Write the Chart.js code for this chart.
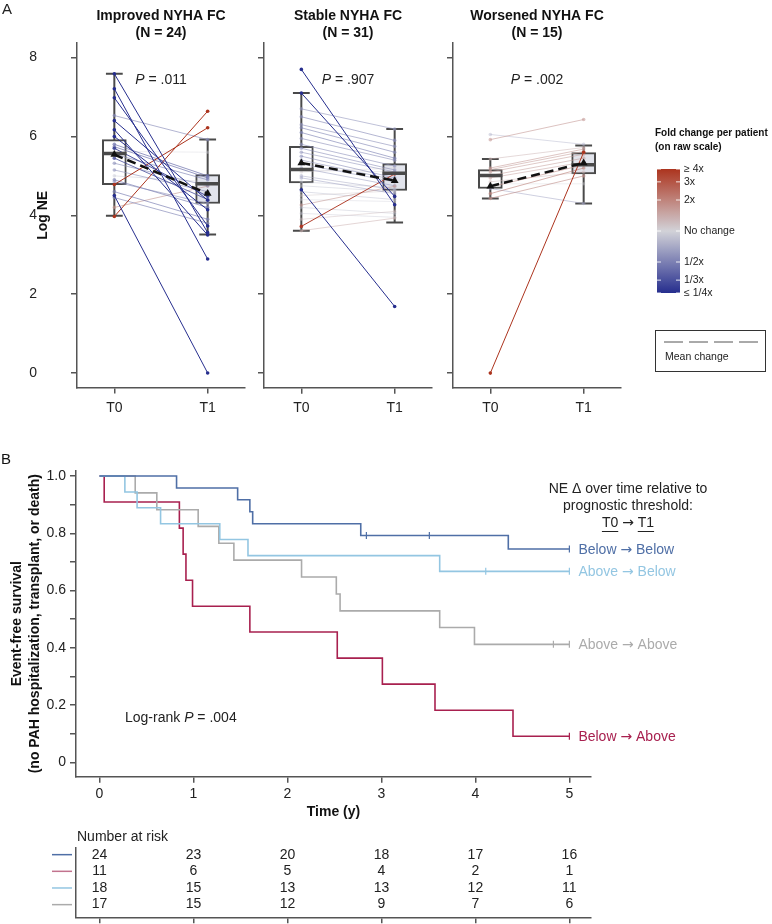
<!DOCTYPE html>
<html>
<head>
<meta charset="utf-8">
<title>NE change by NYHA FC and event-free survival</title>
<script src="https://cdn.jsdelivr.net/npm/chart.js@4.4.1/dist/chart.umd.min.js"></script>
<style>
  html, body { margin: 0; padding: 0; background: #fff; }
  body { position: relative; width: 772px; height: 924px; overflow: hidden; }
  canvas { position: absolute; }
</style>
</head>
<body>
<canvas id="panel1" width="250" height="430" style="left:0px;top:0px"></canvas>
<canvas id="panel2" width="190" height="430" style="left:250px;top:0px"></canvas>
<canvas id="panel3" width="332" height="430" style="left:440px;top:0px"></canvas>
<canvas id="km" width="772" height="396" style="left:0px;top:430px"></canvas>
<canvas id="risk" width="772" height="98" style="left:0px;top:826px"></canvas>
<script>
// ---------- Panel A: log NE per patient at T0 / T1 ----------
const timeLabels = ['T0', 'T1'];
const logNeTicks = [0, 2, 4, 6, 8];
const groupTitles = ['Improved NYHA FC', 'Stable NYHA FC', 'Worsened NYHA FC'];
const groupN = [24, 31, 15];
const groupP = ['.011', '.907', '.002'];

const improvedT0 = [7.59, 7.21, 6.98, 6.53, 6.40, 6.17, 6.00, 5.80, 5.74, 5.62, 5.55, 5.45, 5.32, 5.15, 5.00, 4.90, 4.85, 4.78, 4.60, 4.50, 4.45, 4.20, 3.97, 5.70];
const improvedT1 = [3.56, 2.89, 3.73, 5.92, 4.38, 3.50, 4.14, 5.00, 4.95, 5.60, 4.90, 4.40, 4.75, 4.60, 4.85, 4.20, 4.30, 6.22, 3.90, 0.00, 3.80, 4.74, 6.64, 4.48];

const stableT0 = [7.70, 7.10, 6.70, 6.50, 6.30, 6.22, 6.10, 5.95, 5.80, 5.70, 5.60, 5.50, 5.40, 5.30, 5.20, 5.10, 5.00, 4.95, 4.85, 4.65, 4.75, 4.60, 4.50, 4.40, 4.26, 4.20, 4.05, 3.90, 3.72, 3.61, 5.15];
const stableT1 = [4.27, 4.48, 6.19, 5.90, 5.75, 5.60, 5.45, 5.40, 5.25, 5.15, 5.10, 4.95, 4.90, 4.85, 4.75, 5.20, 4.65, 4.55, 4.70, 1.69, 4.60, 4.40, 4.62, 4.35, 4.74, 4.05, 3.95, 4.10, 5.05, 3.93, 5.10];

const worsenedT0 = [0.00, 6.05, 5.92, 5.43, 5.20, 5.16, 5.10, 5.01, 4.95, 4.85, 4.80, 4.72, 4.68, 4.55, 4.43];
const worsenedT1 = [5.60, 5.80, 6.43, 5.72, 5.68, 5.62, 5.55, 5.45, 5.35, 5.10, 4.80, 5.28, 4.30, 5.20, 5.00];

// box stats: [lower whisker, Q1, median, Q3, upper whisker], T0 then T1
const improvedBox = [[3.99, 4.78, 5.57, 5.92, 7.59], [3.51, 4.30, 4.80, 5.03, 5.92]];
const stableBox = [[3.61, 4.82, 5.16, 5.75, 7.10], [3.82, 4.63, 5.07, 5.31, 6.19]];
const worsenedBox = [[4.43, 4.68, 5.01, 5.16, 5.43], [4.30, 5.05, 5.28, 5.59, 5.77]];
const improvedMean = [5.54, 4.55];
const stableMean = [5.33, 4.88];
const worsenedMean = [4.74, 5.33];

// colour bar
const foldTicks = [4, 3, 2, 1, 1 / 2, 1 / 3, 1 / 4];
const foldTickLabels = ['≥ 4x', '3x', '2x', 'No change', '1/2x', '1/3x', '≤ 1/4x'];

// ---------- Panel B: Kaplan-Meier ----------
const kmLabels = ['Below → Below', 'Above → Below', 'Above → Above', 'Below → Above'];
const belowBelowTime = [0, 0.82, 1.47, 1.60, 1.63, 2.78, 4.35, 5];
const belowBelowSurv = [1, 0.958, 0.917, 0.875, 0.833, 0.792, 0.745, 0.745];
const belowBelowCensor = [2.84, 3.51, 5];
const aboveBelowTime = [0, 0.27, 0.40, 0.65, 1.28, 1.58, 3.62, 5];
const aboveBelowSurv = [1, 0.944, 0.889, 0.833, 0.778, 0.722, 0.667, 0.667];
const aboveBelowCensor = [4.11, 5];
const aboveAboveTime = [0, 0.38, 0.61, 1.05, 1.27, 1.43, 2.15, 2.52, 2.56, 3.62, 3.99, 5];
const aboveAboveSurv = [1, 0.941, 0.882, 0.824, 0.765, 0.706, 0.647, 0.588, 0.529, 0.471, 0.412, 0.412];
const aboveAboveCensor = [4.83, 5];
const belowAboveTime = [0, 0.05, 0.85, 0.89, 0.92, 0.99, 1.60, 2.53, 3.01, 3.57, 4.40, 5];
const belowAboveSurv = [1, 0.909, 0.818, 0.727, 0.636, 0.545, 0.455, 0.364, 0.273, 0.182, 0.091, 0.091];
const belowAboveCensor = [5];
const timeTicks = [0, 1, 2, 3, 4, 5];
const survivalTickLabels = [0, 0.2, 0.4, 0.6, 0.8, 1.0];

// number at risk (rows: Below→Below, Below→Above, Above→Below, Above→Above)
const riskBelowBelow = [24, 23, 20, 18, 17, 16];
const riskBelowAbove = [11, 6, 5, 4, 2, 1];
const riskAboveBelow = [18, 15, 13, 13, 12, 11];
const riskAboveAbove = [17, 15, 12, 9, 7, 6];

// ---------- styling ----------
const FONT = '"Liberation Sans", Arial, Helvetica, sans-serif';
const ARROW_FONT = '"DejaVu Sans", sans-serif';
Chart.defaults.font.family = FONT;
Chart.defaults.font.size = 14;
Chart.defaults.color = '#222';
const AXIS = '#555';
const BOXC = '#4a4a4a';
const HI = [172, 52, 30], MID = [210, 210, 216], LO = [38, 46, 142];
const BOX_HALF = 0.13, CAP_HALF = 0.09;
const C_BB = '#4f6fa6', C_AB = '#93c6e2', C_AA = '#ababab', C_BA = '#a8204f';

function foldMix(t) {
  const end = t >= 0 ? HI : LO, a = Math.min(1, Math.abs(t));
  return MID.map((m, i) => Math.round(m + (end[i] - m) * a));
}
function foldT(t0, t1) {
  return Math.max(-1, Math.min(1, (t1 - t0) / Math.log(4)));
}
function patientColor(t0, t1) {
  const t = foldT(t0, t1);
  const [r, g, b] = foldMix(t);
  return `rgba(${r},${g},${b},${(0.35 + 0.65 * Math.abs(t)).toFixed(2)})`;
}

// draws "a → b" with the arrow taken from DejaVu Sans; returns the pieces' widths
function arrowText(ctx, text, x, y, size, underline) {
  const parts = text.split('→');
  const pieces = [[parts[0], FONT], ['→', ARROW_FONT], [parts[1], FONT]];
  let px = x;
  pieces.forEach(([t, f], i) => {
    ctx.font = `${size}px ${f}`;
    const w = ctx.measureText(t).width;
    ctx.fillText(t, px, y);
    if (underline && i !== 1) {
      const t0 = t.trimStart(), lead = ctx.measureText(t.slice(0, t.length - t0.length)).width;
      const core = ctx.measureText(t0.trimEnd()).width;
      ctx.beginPath();
      ctx.moveTo(px + lead, y + 8.5); ctx.lineTo(px + lead + core, y + 8.5);
      ctx.stroke();
    }
    px += w;
  });
  return px - x;
}
function arrowTextWidth(ctx, text, size) {
  const parts = text.split('→');
  ctx.font = `${size}px ${FONT}`;
  let w = ctx.measureText(parts[0]).width + ctx.measureText(parts[1]).width;
  ctx.font = `${size}px ${ARROW_FONT}`;
  return w + ctx.measureText('→').width;
}

// titles + P values over each panel
const panelText = {
  id: 'panelText',
  afterDraw(chart, args, o) {
    const { ctx, chartArea } = chart;
    const cx = (chartArea.left + chartArea.right) / 2;
    ctx.save();
    ctx.fillStyle = '#111';
    ctx.textAlign = 'center';
    ctx.textBaseline = 'middle';
    ctx.font = `bold 14px ${FONT}`;
    ctx.fillText(o.title, cx, 16);
    ctx.fillText(`(N = ${o.n})`, cx, 33);
    ctx.font = `italic 14px ${FONT}`;
    const wP = ctx.measureText('P').width;
    ctx.font = `14px ${FONT}`;
    const rest = ` = ${o.p}`;
    const wR = ctx.measureText(rest).width;
    const x0 = cx - (wP + wR) / 2;
    ctx.textAlign = 'left';
    ctx.fillStyle = '#222';
    ctx.font = `italic 14px ${FONT}`;
    ctx.fillText('P', x0, 80);
    ctx.font = `14px ${FONT}`;
    ctx.fillText(rest, x0 + wP, 80);
    if (o.letter) {
      ctx.font = `15px ${FONT}`;
      ctx.fillText(o.letter, 2, 10);
    }
    ctx.restore();
  }
};

// colour bar + mean change legend (drawn on panel 3 canvas, which starts at x=440)
const foldLegend = {
  id: 'foldLegend',
  afterDraw(chart) {
    const ctx = chart.ctx, ox = 440;
    const bx = 657 - ox, bw = 23, top = 169, bot = 293, mid = (top + bot) / 2, half = (bot - top) / 2;
    ctx.save();
    ctx.fillStyle = '#111';
    ctx.textAlign = 'left';
    ctx.textBaseline = 'middle';
    ctx.font = `bold 10px ${FONT}`;
    ctx.fillText('Fold change per patient', 655 - ox, 133);
    ctx.fillText('(on raw scale)', 655 - ox, 147);
    const g = ctx.createLinearGradient(0, top, 0, bot);
    for (let k = 0; k <= 20; k++) {
      const [r, gg, b] = foldMix(1 - k / 10);
      g.addColorStop(k / 20, `rgb(${r},${gg},${b})`);
    }
    ctx.fillStyle = g;
    ctx.fillRect(bx, top, bw, bot - top);
    ctx.font = `10.5px ${FONT}`;
    foldTicks.forEach((f, i) => {
      const y = mid - Math.log(f) / Math.log(4) * half;
      ctx.strokeStyle = 'rgba(255,255,255,0.85)';
      ctx.lineWidth = 1;
      ctx.beginPath();
      ctx.moveTo(bx, y); ctx.lineTo(bx + 4, y);
      ctx.moveTo(bx + bw - 4, y); ctx.lineTo(bx + bw, y);
      ctx.stroke();
      ctx.fillStyle = '#222';
      ctx.fillText(foldTickLabels[i], bx + bw + 4, y);
    });
    ctx.strokeStyle = '#333';
    ctx.lineWidth = 1;
    ctx.strokeRect(655 - ox + 0.5, 330.5, 110, 41);
    ctx.strokeStyle = '#555';
    ctx.setLineDash([19, 6]);
    ctx.beginPath();
    ctx.moveTo(664 - ox, 342); ctx.lineTo(758 - ox, 342);
    ctx.stroke();
    ctx.setLineDash([]);
    ctx.fillStyle = '#222';
    ctx.fillText('Mean change', 665 - ox, 357);
    ctx.restore();
  }
};

function buildPanel(id, idx, t0, t1, box, mean, yWidth, padRight, extraPlugins) {
  const ds = [];
  ds.push({ type: 'line', order: 12, data: box.flatMap((b, i) => [{ x: i, y: b[0] }, { x: i, y: b[4] }, { x: i, y: null }]),
    borderColor: BOXC, borderWidth: 2, pointRadius: 0 });
  ds.push({ type: 'line', order: 12, data: box.flatMap((b, i) => [
      { x: i - CAP_HALF, y: b[0] }, { x: i + CAP_HALF, y: b[0] }, { x: i, y: null },
      { x: i - CAP_HALF, y: b[4] }, { x: i + CAP_HALF, y: b[4] }, { x: i, y: null }]),
    borderColor: BOXC, borderWidth: 2, pointRadius: 0 });
  ds.push({ type: 'bar', order: 10, data: box.map((b, i) => ({ x: i, y: [b[1], b[3]] })),
    backgroundColor: ['#ffffff', '#e2e4ec'], borderColor: BOXC, borderWidth: 2, borderSkipped: false, barThickness: 24 });
  t0.forEach((v, i) => {
    const c = patientColor(v, t1[i]);
    ds.push({ type: 'line', order: 6 - Math.abs(foldT(v, t1[i])), data: [{ x: 0, y: v }, { x: 1, y: t1[i] }],
      borderColor: c, borderWidth: 1, pointRadius: 1.8, pointBackgroundColor: c, pointBorderWidth: 0 });
  });
  ds.push({ type: 'line', order: 3, data: box.flatMap((b, i) => [{ x: i - BOX_HALF, y: b[2] }, { x: i + BOX_HALF, y: b[2] }, { x: i, y: null }]),
    borderColor: BOXC, borderWidth: 3.5, pointRadius: 0, borderCapStyle: 'butt' });
  ds.push({ type: 'line', order: 0, data: mean.map((m, i) => ({ x: i, y: m })),
    borderColor: '#111', borderWidth: 2.5, borderDash: [9, 5], pointStyle: 'triangle', pointRadius: 4.5,
    pointBackgroundColor: '#111', pointBorderColor: '#111', pointBorderWidth: 0 });

  return new Chart(document.getElementById(id), {
    type: 'line',
    data: { datasets: ds },
    plugins: [panelText].concat(extraPlugins || []),
    options: {
      responsive: false, animation: false, devicePixelRatio: 1, events: [],
      layout: { padding: { top: 43, right: padRight, bottom: 12.3, left: 0 } },
      plugins: {
        legend: { display: false }, tooltip: { enabled: false },
        panelText: { title: groupTitles[idx], n: groupN[idx], p: groupP[idx], letter: idx === 0 ? 'A' : '' }
      },
      scales: {
        x: {
          type: 'linear', min: -0.4, max: 1.4, offset: false,
          afterBuildTicks: s => { s.ticks = timeLabels.map((_, i) => ({ value: i })); },
          afterFit: s => { s.height = 30; },
          ticks: { callback: v => timeLabels[v], padding: 6, autoSkip: false, maxRotation: 0, color: '#222' },
          grid: { drawOnChartArea: false, tickLength: 6, color: AXIS, lineWidth: 1.5, offset: false },
          border: { color: AXIS, width: 1.5 }
        },
        y: {
          type: 'linear', min: -0.37, max: 8.37,
          afterBuildTicks: s => { s.ticks = logNeTicks.map(v => ({ value: v })); },
          afterFit: s => { s.width = yWidth; },
          ticks: { display: idx === 0, padding: 34, color: '#222' },
          grid: { drawOnChartArea: false, tickLength: 6, color: AXIS, lineWidth: 1.5 },
          border: { color: AXIS, width: 1.5 },
          title: idx === 0
            ? { display: true, text: 'Log NE', font: { size: 14, weight: 'bold' }, color: '#111', padding: { top: 35, bottom: 0 } }
            : { display: false }
        }
      }
    }
  });
}

buildPanel('panel1', 0, improvedT0, improvedT1, improvedBox, improvedMean, 77, 5);
buildPanel('panel2', 1, stableT0, stableT1, stableBox, stableMean, 14, 8);
buildPanel('panel3', 2, worsenedT0, worsenedT1, worsenedBox, worsenedMean, 13, 151, [foldLegend]);

// ---------- Panel B ----------
const kmSeries = [
  { label: kmLabels[0], time: belowBelowTime, surv: belowBelowSurv, cens: belowBelowCensor, color: C_BB },
  { label: kmLabels[1], time: aboveBelowTime, surv: aboveBelowSurv, cens: aboveBelowCensor, color: C_AB },
  { label: kmLabels[2], time: aboveAboveTime, surv: aboveAboveSurv, cens: aboveAboveCensor, color: C_AA },
  { label: kmLabels[3], time: belowAboveTime, surv: belowAboveSurv, cens: belowAboveCensor, color: C_BA }
];
function survAt(s, t) {
  let v = s.surv[0];
  s.time.forEach((tt, i) => { if (tt <= t) v = s.surv[i]; });
  return v;
}

const kmText = {
  id: 'kmText',
  afterDraw(chart) {
    const { ctx, scales: { x, y } } = chart;
    ctx.save();
    ctx.textBaseline = 'middle';
    ctx.textAlign = 'left';
    ctx.fillStyle = '#111';
    ctx.font = `15px ${FONT}`;
    ctx.fillText('B', 1, 30);
    ctx.font = `14px ${FONT}`;
    ctx.fillStyle = '#222';
    ctx.textAlign = 'center';
    const hx = 628;
    ctx.fillText('NE Δ over time relative to', hx, 59);
    ctx.fillText('prognostic threshold:', hx, 76);
    ctx.textAlign = 'left';
    ctx.strokeStyle = '#222';
    ctx.lineWidth = 1;
    const head = 'T0 → T1';
    arrowText(ctx, head, hx - arrowTextWidth(ctx, head, 14) / 2, 93, 14, true);
    kmSeries.forEach(s => {
      ctx.fillStyle = s.color;
      arrowText(ctx, s.label, x.getPixelForValue(5) + 9, y.getPixelForValue(s.surv[s.surv.length - 1]) + 1, 14, false);
    });
    // log-rank
    ctx.fillStyle = '#222';
    let lx = 125;
    const lr = [['Log-rank ', 'normal'], ['P', 'italic'], [' = .004', 'normal']];
    lr.forEach(([t, st]) => {
      ctx.font = `${st === 'italic' ? 'italic ' : ''}14px ${FONT}`;
      ctx.fillText(t, lx, 288);
      lx += ctx.measureText(t).width;
    });
    ctx.restore();
  }
};

const kmDatasets = [];
kmSeries.forEach(s => {
  kmDatasets.push({
    type: 'line', data: s.time.map((t, i) => ({ x: t, y: s.surv[i] })), stepped: 'before',
    borderColor: s.color, borderWidth: 1.6, pointRadius: 0, fill: false
  });
  kmDatasets.push({
    type: 'line', showLine: false, data: s.cens.map(t => ({ x: t, y: survAt(s, t) })),
    pointStyle: 'line', rotation: 90, pointRadius: 3.5, pointBorderWidth: 1.2, pointBorderColor: s.color, pointBackgroundColor: s.color
  });
});

new Chart(document.getElementById('km'), {
  type: 'line',
  data: { datasets: kmDatasets },
  plugins: [kmText],
  options: {
    responsive: false, animation: false, devicePixelRatio: 1, events: [],
    layout: { padding: { top: 40.7, right: 181, bottom: 3.3, left: 0 } },
    plugins: { legend: { display: false }, tooltip: { enabled: false } },
    scales: {
      x: {
        type: 'linear', min: -0.25, max: 5.23, offset: false,
        afterBuildTicks: s => { s.ticks = timeTicks.map(v => ({ value: v })); },
        afterFit: s => { s.height = 46; },
        ticks: { padding: 3, autoSkip: false, maxRotation: 0, color: '#222' },
        grid: { drawOnChartArea: false, tickLength: 6, color: AXIS, lineWidth: 1.5 },
        border: { color: AXIS, width: 1.5 },
        title: { display: true, text: 'Time (y)', font: { size: 14, weight: 'bold' }, color: '#111', padding: { top: 0, bottom: 2.3 } }
      },
      y: {
        type: 'linear', min: -0.0503, max: 1.0185,
        afterBuildTicks: s => { const t = []; for (let i = 0; i <= 10; i++) t.push({ value: i / 10 }); s.ticks = t; },
        afterFit: s => { s.width = 76; },
        ticks: {
          padding: 4, autoSkip: false, color: '#222',
          callback: v => {
            const hit = survivalTickLabels.find(l => Math.abs(l - v) < 1e-6);
            return hit === undefined ? '' : (hit === 0 ? '0' : hit.toFixed(1));
          }
        },
        grid: { drawOnChartArea: false, tickLength: 6, color: AXIS, lineWidth: 1.5 },
        border: { color: AXIS, width: 1.5 },
        title: {
          display: true, text: ['Event-free survival', '(no PAH hospitalization, transplant, or death)'],
          font: { size: 14, weight: 'bold', lineHeight: 1.3 }, color: '#111', padding: { top: 8, bottom: 0 }
        }
      }
    }
  }
});

// ---------- Number at risk ----------
const riskRows = [riskBelowBelow, riskBelowAbove, riskAboveBelow, riskAboveAbove];
const riskColors = [C_BB, '#c2738e', C_AB, C_AA];
const riskTable = {
  id: 'riskTable',
  afterDraw(chart) {
    const { ctx, scales: { x, y } } = chart;
    ctx.save();
    ctx.font = `14px ${FONT}`;
    ctx.fillStyle = '#222';
    ctx.textAlign = 'left';
    ctx.textBaseline = 'alphabetic';
    ctx.fillText('Number at risk', 77, 15);
    ctx.textBaseline = 'middle';
    ctx.textAlign = 'center';
    riskRows.forEach((row, r) => {
      const py = y.getPixelForValue(r);
      row.forEach((n, i) => ctx.fillText(String(n), x.getPixelForValue(timeTicks[i]), py));
      ctx.strokeStyle = riskColors[r];
      ctx.lineWidth = 1.5;
      ctx.beginPath();
      ctx.moveTo(52, py); ctx.lineTo(72, py);
      ctx.stroke();
    });
    ctx.restore();
  }
};

new Chart(document.getElementById('risk'), {
  type: 'line',
  data: { datasets: [{ data: [] }] },
  plugins: [riskTable],
  options: {
    responsive: false, animation: false, devicePixelRatio: 1, events: [],
    layout: { padding: { top: 22, right: 181, bottom: 0, left: 0 } },
    plugins: { legend: { display: false }, tooltip: { enabled: false } },
    scales: {
      x: {
        type: 'linear', min: -0.25, max: 5.23, offset: false,
        afterBuildTicks: s => { s.ticks = timeTicks.map(v => ({ value: v })); },
        afterFit: s => { s.height = 6.7; },
        ticks: { display: false },
        grid: { drawOnChartArea: false, tickLength: 6, color: AXIS, lineWidth: 1.5 },
        border: { color: AXIS, width: 1.5 }
      },
      y: {
        type: 'linear', min: -0.4, max: 3.76, reverse: true,
        afterFit: s => { s.width = 76; },
        ticks: { display: false },
        grid: { display: false },
        border: { color: AXIS, width: 1.5 }
      }
    }
  }
});
</script>
</body>
</html>
